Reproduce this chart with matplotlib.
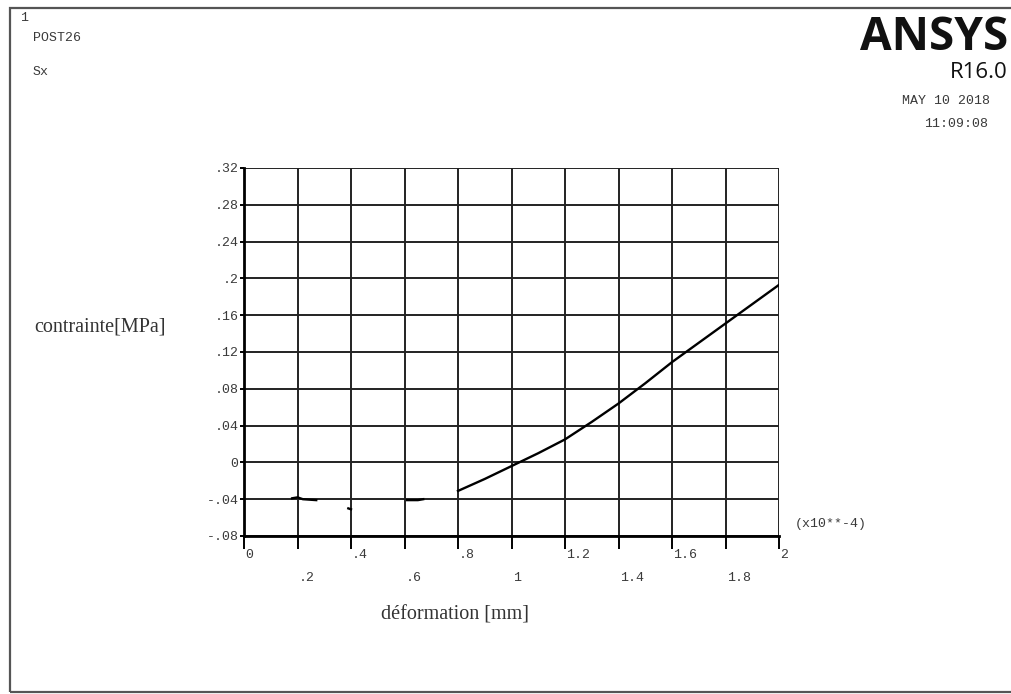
import numpy as np
import matplotlib
matplotlib.use("Agg")
import matplotlib.pyplot as plt
from matplotlib.patches import Rectangle

# strain (x10**-4) and stress Sx [MPa]; NaN separates the broken pieces
strain = [0.18, 0.20, 0.22, 0.27, np.nan,
          0.39, 0.40, np.nan,
          0.61, 0.65, 0.67, np.nan,
          0.80, 0.90, 1.00, 1.10, 1.20, 1.30, 1.40, 1.50, 1.60, 1.70, 1.80, 1.90, 2.00]
stress = [-0.039, -0.038, -0.040, -0.041, np.nan,
          -0.050, -0.051, np.nan,
          -0.041, -0.041, -0.040, np.nan,
          -0.031, -0.018, -0.004, 0.010, 0.025, 0.044, 0.064, 0.086, 0.109, 0.130, 0.151, 0.172, 0.193]

xticks = [0, 0.2, 0.4, 0.6, 0.8, 1.0, 1.2, 1.4, 1.6, 1.8, 2.0]
xlabels = ["0", ".2", ".4", ".6", ".8", "1", "1.2", "1.4", "1.6", "1.8", "2"]
yticks = [-0.08, -0.04, 0, 0.04, 0.08, 0.12, 0.16, 0.2, 0.24, 0.28, 0.32]
ylabels = ["-.08", "-.04", "0", ".04", ".08", ".12", ".16", ".2", ".24", ".28", ".32"]

W, H = 1011, 694
fig = plt.figure(figsize=(W / 100, H / 100), dpi=100)
fig.patch.set_facecolor("white")

# outer frame
fig.patches.append(Rectangle((10 / W, 1 - 692 / H), 1.2, (692 - 8) / H,
                             transform=fig.transFigure, fill=False,
                             edgecolor="#555555", linewidth=1.6))

ax = fig.add_axes([244 / W, 1 - 536 / H, 535 / W, 368 / H])
ax.set_xlim(0, 2)
ax.set_ylim(-0.08, 0.32)
for x in xticks:
    ax.axvline(x, color="#222222", linewidth=1.4, zorder=1)
for y in yticks:
    ax.axhline(y, color="#222222", linewidth=1.4, zorder=1)
ax.plot(strain, stress, color="black", linewidth=1.7, zorder=3)

for s in ax.spines.values():
    s.set_linewidth(2.0)
ax.spines["top"].set_visible(False)
ax.spines["right"].set_visible(False)

mono = "Liberation Mono"
tc = "#3a3a3a"
ax.set_xticks(xticks)
ax.set_xticklabels([])
ax.tick_params(axis="x", length=9, width=1.4, direction="out")
ax.set_yticks(yticks)
ax.set_yticklabels(ylabels, fontfamily=mono, fontsize=9.5, color=tc)
ax.tick_params(axis="y", length=3, width=1.4, pad=1)

# x labels staggered on two rows, starting at the tick
for i, (x, lab) in enumerate(zip(xticks, xlabels)):
    yy = -0.1007 if i % 2 == 0 else -0.1257
    ax.text(x + 0.004, yy, lab, transform=ax.transData, ha="left", va="center",
            fontfamily=mono, fontsize=9.5, color=tc, clip_on=False)

fig.text(795 / W, 1 - 524 / H, "(x10**-4)", ha="left", va="center",
         fontfamily=mono, fontsize=9.5, color=tc)

fig.text(100 / W, 1 - 327 / H, "contrainte[MPa]", ha="center", va="center",
         fontfamily="Liberation Serif", fontsize=14.5, color="#333333")
fig.text(455 / W, 1 - 615 / H, "déformation [mm]", ha="center", va="center",
         fontfamily="Liberation Serif", fontsize=14.5, color="#333333")

fig.text(20 / W, 1 - 18 / H, "1", ha="left", va="center",
         fontfamily=mono, fontsize=9.5, color=tc)
fig.text(33 / W, 1 - 38 / H, "POST26", ha="left", va="center",
         fontfamily=mono, fontsize=9.5, color=tc)
fig.text(33 / W, 1 - 72 / H, "Sx", ha="left", va="center",
         fontfamily=mono, fontsize=9.5, color=tc)

fig.text(1008 / W, 1 - 37 / H, "ANSYS", ha="right", va="center",
         fontfamily="Open Sans", fontweight="bold", fontsize=33, color="#111111")
fig.text(1008 / W, 1 - 72 / H, "R16.0", ha="right", va="center",
         fontfamily="Open Sans", fontsize=16, color="#111111")
fig.text(990 / W, 1 - 101 / H, "MAY 10 2018", ha="right", va="center",
         fontfamily=mono, fontsize=9.5, color=tc)
fig.text(988 / W, 1 - 124 / H, "11:09:08", ha="right", va="center",
         fontfamily=mono, fontsize=9.5, color=tc)

fig.savefig("out.png", dpi=100)
